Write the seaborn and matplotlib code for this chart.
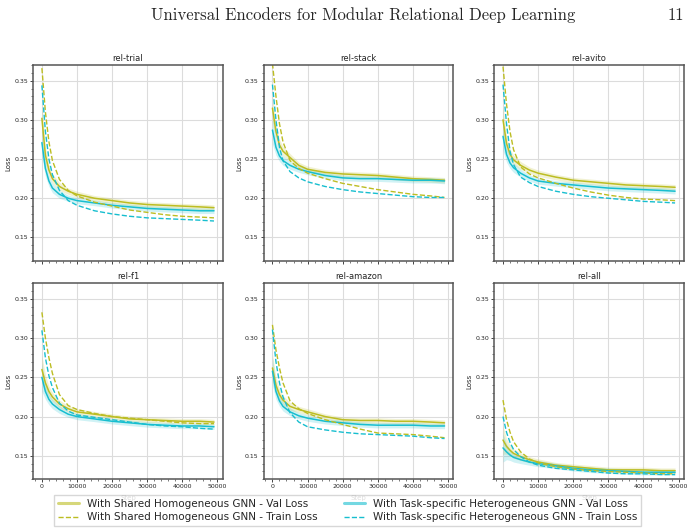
import numpy as np
import pandas as pd
import matplotlib
matplotlib.use("Agg")
import matplotlib.pyplot as plt
import seaborn as sns
from matplotlib.lines import Line2D
from matplotlib.ticker import AutoMinorLocator

steps = [0, 1000, 2000, 3000, 5000, 7500, 10000, 15000, 20000, 25000, 30000, 35000, 40000, 45000, 49000]

panels = ["rel-trial", "rel-stack", "rel-avito", "rel-f1", "rel-amazon", "rel-all"]

# Shared homogeneous GNN
shared_val = {
    "rel-trial":  [0.302, 0.255, 0.236, 0.225, 0.215, 0.209, 0.205, 0.200, 0.197, 0.194, 0.192, 0.191, 0.190, 0.189, 0.188],
    "rel-stack":  [0.315, 0.285, 0.268, 0.260, 0.252, 0.242, 0.237, 0.233, 0.231, 0.230, 0.229, 0.227, 0.225, 0.224, 0.223],
    "rel-avito":  [0.300, 0.270, 0.256, 0.249, 0.242, 0.236, 0.232, 0.227, 0.223, 0.221, 0.219, 0.217, 0.216, 0.215, 0.214],
    "rel-f1":     [0.260, 0.243, 0.232, 0.225, 0.216, 0.210, 0.206, 0.203, 0.200, 0.197, 0.196, 0.195, 0.194, 0.194, 0.193],
    "rel-amazon": [0.262, 0.240, 0.228, 0.221, 0.213, 0.209, 0.206, 0.200, 0.196, 0.195, 0.195, 0.194, 0.194, 0.193, 0.192],
    "rel-all":    [0.170, 0.162, 0.157, 0.153, 0.149, 0.145, 0.142, 0.138, 0.136, 0.134, 0.132, 0.132, 0.132, 0.131, 0.131],
}
shared_train = {
    "rel-trial":  [0.366, 0.310, 0.272, 0.248, 0.224, 0.210, 0.203, 0.195, 0.190, 0.185, 0.182, 0.179, 0.177, 0.176, 0.175],
    "rel-stack":  [0.372, 0.330, 0.295, 0.272, 0.248, 0.238, 0.232, 0.225, 0.219, 0.215, 0.211, 0.208, 0.205, 0.203, 0.201],
    "rel-avito":  [0.368, 0.320, 0.285, 0.262, 0.240, 0.231, 0.226, 0.219, 0.213, 0.208, 0.204, 0.201, 0.199, 0.198, 0.197],
    "rel-f1":     [0.333, 0.300, 0.275, 0.255, 0.228, 0.214, 0.209, 0.204, 0.200, 0.198, 0.196, 0.194, 0.192, 0.191, 0.191],
    "rel-amazon": [0.317, 0.285, 0.262, 0.243, 0.220, 0.210, 0.204, 0.196, 0.190, 0.184, 0.179, 0.178, 0.177, 0.175, 0.173],
    "rel-all":    [0.221, 0.196, 0.180, 0.168, 0.155, 0.146, 0.141, 0.136, 0.133, 0.131, 0.130, 0.129, 0.128, 0.127, 0.127],
}

# Task-specific heterogeneous GNN
task_val = {
    "rel-trial":  [0.271, 0.238, 0.222, 0.213, 0.205, 0.200, 0.197, 0.194, 0.191, 0.189, 0.187, 0.186, 0.185, 0.184, 0.184],
    "rel-stack":  [0.287, 0.265, 0.254, 0.248, 0.242, 0.237, 0.234, 0.229, 0.226, 0.225, 0.225, 0.224, 0.223, 0.223, 0.222],
    "rel-avito":  [0.279, 0.256, 0.245, 0.239, 0.232, 0.226, 0.222, 0.219, 0.217, 0.215, 0.213, 0.212, 0.211, 0.210, 0.209],
    "rel-f1":     [0.250, 0.232, 0.222, 0.216, 0.209, 0.203, 0.200, 0.197, 0.194, 0.192, 0.190, 0.189, 0.188, 0.188, 0.187],
    "rel-amazon": [0.258, 0.232, 0.220, 0.213, 0.206, 0.201, 0.198, 0.194, 0.192, 0.190, 0.189, 0.189, 0.189, 0.188, 0.188],
    "rel-all":    [0.160, 0.155, 0.151, 0.148, 0.145, 0.142, 0.140, 0.137, 0.134, 0.132, 0.131, 0.130, 0.129, 0.129, 0.129],
}
task_train = {
    "rel-trial":  [0.344, 0.285, 0.250, 0.230, 0.210, 0.197, 0.191, 0.184, 0.180, 0.177, 0.175, 0.174, 0.173, 0.172, 0.171],
    "rel-stack":  [0.345, 0.300, 0.265, 0.248, 0.234, 0.226, 0.221, 0.215, 0.211, 0.208, 0.206, 0.204, 0.202, 0.201, 0.201],
    "rel-avito":  [0.345, 0.295, 0.260, 0.243, 0.227, 0.220, 0.215, 0.209, 0.205, 0.202, 0.200, 0.198, 0.196, 0.195, 0.194],
    "rel-f1":     [0.310, 0.275, 0.252, 0.237, 0.217, 0.207, 0.202, 0.199, 0.196, 0.193, 0.190, 0.188, 0.187, 0.185, 0.184],
    "rel-amazon": [0.311, 0.270, 0.243, 0.225, 0.205, 0.193, 0.187, 0.183, 0.180, 0.178, 0.177, 0.176, 0.175, 0.173, 0.172],
    "rel-all":    [0.200, 0.180, 0.167, 0.158, 0.149, 0.142, 0.138, 0.134, 0.132, 0.130, 0.128, 0.127, 0.127, 0.126, 0.126],
}

# half-width of the seed band around the val curves
val_spread = [0.018, 0.010, 0.007, 0.006, 0.005, 0.004, 0.004, 0.0035, 0.0035, 0.0035, 0.0035, 0.0035, 0.0035, 0.0035, 0.0035]

labels = {
    "sv": "With Shared Homogeneous GNN - Val Loss",
    "st": "With Shared Homogeneous GNN - Train Loss",
    "tv": "With Task-specific Heterogeneous GNN - Val Loss",
    "tt": "With Task-specific Heterogeneous GNN - Train Loss",
}
c_shared = "#bcbd22"
c_task = "#17becf"

# long format table
rows = []
for p in panels:
    for key, src in [("sv", shared_val), ("st", shared_train), ("tv", task_val), ("tt", task_train)]:
        for s, v in zip(steps, src[p]):
            rows.append({"panel": p, "series": key, "Step": s, "Loss": v})
df = pd.DataFrame(rows)

sns.set_style("white")
plt.rcParams["font.family"] = ["DejaVu Sans"]

fig, axes = plt.subplots(2, 3, figsize=(6.98, 5.31), dpi=100, sharex=True)
fig.subplots_adjust(left=0.0477, right=0.9795, top=0.8776, bottom=0.0974, wspace=0.218, hspace=0.114)

spread = np.array(val_spread)
for ax, p in zip(axes.flat, panels):
    sub = df[df["panel"] == p]
    for key, col, ls, lw in [("sv", c_shared, "-", 1.1), ("tv", c_task, "-", 1.1),
                             ("st", c_shared, "--", 1.0), ("tt", c_task, "--", 1.0)]:
        d = sub[sub["series"] == key]
        sns.lineplot(data=d, x="Step", y="Loss", ax=ax, color=col, linestyle=ls, linewidth=lw)
        if key in ("sv", "tv"):
            y = d["Loss"].to_numpy()
            ax.fill_between(d["Step"], y - spread, y + spread, color=col, alpha=0.2, linewidth=0)
    ax.set_ylim(0.12, 0.37)
    ax.set_yticks([0.15, 0.20, 0.25, 0.30, 0.35])
    ax.set_xticks([0, 10000, 20000, 30000, 40000, 50000])
    ax.xaxis.set_minor_locator(AutoMinorLocator())
    ax.yaxis.set_minor_locator(AutoMinorLocator())
    ax.grid(True, which="major", color="#dcdcdc", linewidth=0.8)
    ax.tick_params(which="both", bottom=True, left=True, direction="out", color="#444444")
    ax.tick_params(which="major", length=2.2, width=0.7, labelsize=4.5, pad=1.5)
    ax.tick_params(which="minor", length=1.2, width=0.5)
    bottom_row = ax in axes[1]
    ax.tick_params(axis="x", labelbottom=bottom_row)
    for sp in ax.spines.values():
        sp.set_color("#555555")
        sp.set_linewidth(1.1)
    ax.set_title(p, fontsize=6, pad=3)
    ax.set_xlabel("Step", fontsize=5, labelpad=4 if bottom_row else 1)
    ax.set_ylabel("Loss", fontsize=5, labelpad=2)
axes[0, 0].set_xlim(-2450, 51450)

handles = [
    Line2D([], [], color=c_shared, lw=2.2, alpha=0.6),
    Line2D([], [], color=c_shared, lw=1.0, ls="--"),
    Line2D([], [], color=c_task, lw=2.2, alpha=0.6),
    Line2D([], [], color=c_task, lw=1.0, ls="--"),
]
# legend sits over the bottom row's "Step" labels, as in the original
fig.legend(handles, [labels["sv"], labels["st"], labels["tv"], labels["tt"]],
           loc="lower center", bbox_to_anchor=(0.498, 0.0), ncol=2, fontsize=7.5,
           frameon=True, fancybox=False, edgecolor="#d0d0d0", framealpha=0.85,
           columnspacing=2.5, handlelength=2.0, borderpad=0.35, labelspacing=0.3)

# page header from the paper
fig.text(0.216, 0.972, "Universal Encoders for Modular Relational Deep Learning",
         fontsize=12, family="cmr10", va="center", ha="left")
fig.text(0.957, 0.972, "11", fontsize=12, family="cmr10", va="center", ha="left")

fig.savefig("out.png", dpi=100)
